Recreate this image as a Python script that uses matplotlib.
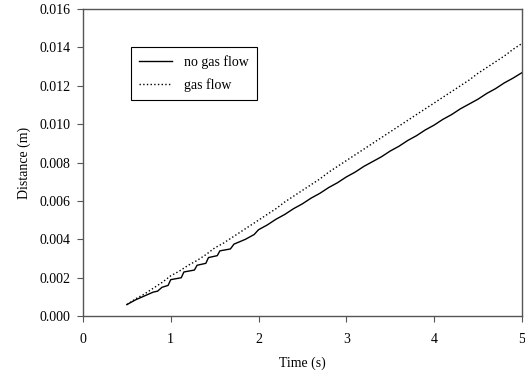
import numpy as np
import matplotlib
matplotlib.use('Agg')
import matplotlib.pyplot as plt

plt.rcParams['font.family'] = ['Liberation Serif', 'DejaVu Serif']
plt.rcParams['font.size'] = 10

# no gas flow: time (s) and distance (mm) (stair steps early on)
t_sin = [0.50, 0.60, 0.70, 0.80, 0.85, 0.90, 0.97, 1.00, 1.12, 1.15, 1.27, 1.30, 1.40,
         1.43, 1.53, 1.56, 1.68, 1.72, 1.85, 1.95, 2.0, 2.1, 2.2, 2.3, 2.4, 2.5, 2.6, 2.7,
         2.8, 2.9, 3.0, 3.1, 3.2, 3.3, 3.4, 3.5, 3.6, 3.7, 3.8, 3.9, 4.0, 4.1, 4.2, 4.3,
         4.4, 4.5, 4.6, 4.7, 4.8, 4.9, 5.0]
sin_gas = [0.60, 0.85, 1.05, 1.25, 1.30, 1.50, 1.60, 1.90, 2.00, 2.30, 2.40, 2.65, 2.75,
           3.05, 3.15, 3.40, 3.50, 3.75, 4.00, 4.25, 4.50, 4.75, 5.05, 5.30, 5.60, 5.85,
           6.15, 6.40, 6.70, 6.95, 7.25, 7.50, 7.80, 8.05, 8.30, 8.60, 8.85, 9.15, 9.40,
           9.70, 9.95, 10.25, 10.50, 10.80, 11.05, 11.30, 11.60, 11.85, 12.15, 12.40, 12.68]

# gas flow
t_con = [0.5, 0.6, 0.7, 0.8, 0.9, 1.0, 1.1, 1.2, 1.3, 1.4, 1.5, 1.6, 1.7, 1.8, 1.9,
         2.0, 2.1, 2.2, 2.3, 2.4, 2.5, 2.6, 2.7, 2.8, 2.9, 3.0, 3.1, 3.2, 3.3, 3.4,
         3.5, 3.6, 3.7, 3.8, 3.9, 4.0, 4.1, 4.2, 4.3, 4.4, 4.5, 4.6, 4.7, 4.8, 4.9, 5.0]
con_gas = [0.60, 0.90, 1.15, 1.45, 1.75, 2.10, 2.35, 2.65, 2.90, 3.20, 3.55, 3.80, 4.10,
           4.40, 4.70, 5.00, 5.30, 5.60, 5.95, 6.25, 6.55, 6.85, 7.15, 7.50, 7.80, 8.10,
           8.40, 8.70, 9.00, 9.30, 9.60, 9.90, 10.20, 10.50, 10.80, 11.10, 11.40, 11.70,
           12.00, 12.30, 12.65, 12.95, 13.25, 13.55, 13.90, 14.20]

d1 = np.array(sin_gas) / 1000.
d2 = np.array(con_gas) / 1000.

fig = plt.figure(figsize=(5.25, 3.75), dpi=100)
ax = fig.add_axes([0.158, 0.157, 0.836, 0.819])

ax.plot(t_sin, d1, '-k', lw=1.0, label='no gas flow')
ax.plot(t_con, d2, ':k', lw=1.0, label='gas flow')

ax.set_xlim([0, 5])
ax.set_ylim([0, 0.016])
ax.set_xticks(np.arange(0, 6, 1))
yt = np.arange(0, 0.0161, 0.002)
ax.set_yticks(yt)
ax.set_yticklabels(['%.3f' % v for v in yt])
ax.set_xlabel('Time (s)', labelpad=8)
ax.set_ylabel('Distance (m)', labelpad=6)

for s in ax.spines.values():
    s.set_color('#555555')
    s.set_linewidth(1.0)
ax.tick_params(direction='out', length=4, color='#555555')
ax.tick_params(axis='x', pad=8)
ax.tick_params(axis='y', pad=5)

leg = ax.legend(loc='upper left', bbox_to_anchor=(0.109, 0.876), borderaxespad=0,
                fancybox=False, edgecolor='black', framealpha=1, handlelength=2.4,
                borderpad=0.6, labelspacing=0.65)
leg.get_frame().set_linewidth(0.8)

fig.savefig('out.png', dpi=100)
